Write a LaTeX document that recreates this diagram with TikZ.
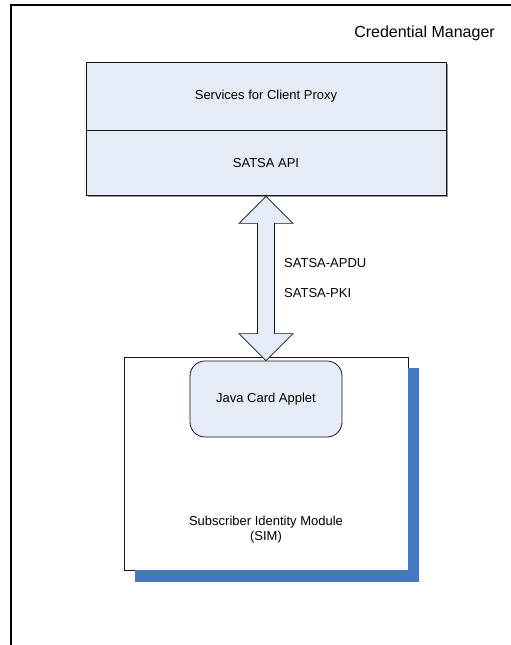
\documentclass[tikz,border=0pt]{standalone}
\usepackage{fontspec}
\setmainfont{Liberation Sans}
\usepackage{tikz}
\usetikzlibrary{positioning, calc}
\definecolor{paneFill}{RGB}{230,236,247}
\definecolor{paneEdge}{RGB}{20,20,20}
\definecolor{simShadow}{RGB}{70,120,190}
\definecolor{paneGray}{RGB}{150,150,150}

\begin{document}
\begin{tikzpicture}[x=1pt, y=-1pt,
        pane/.style={rectangle, draw=paneEdge, line width=0.9pt, fill=paneFill, minimum width=360pt, inner sep=0pt, font=\fontsize{13}{15}\selectfont},
        simbox/.style={rectangle, draw=paneEdge, line width=0.9pt, fill=white, minimum width=284pt, minimum height=213pt, inner sep=0pt},
        applet/.style={rectangle, draw=paneEdge, line width=0.8pt, fill=paneFill, rounded corners=15pt, minimum width=152pt, minimum height=76pt, font=\fontsize{13}{15}\selectfont},
        txt/.style={font=\fontsize{13}{15}\selectfont, inner sep=0pt},
        fatarr/.style={draw=paneEdge, line width=0.7pt, fill=paneFill, line join=miter},
    ]
    \useasboundingbox (0,0) rectangle (511,645);
    \draw[line width=1.2pt] (11,645) -- (11,5) -- (511,5);
    \node[font=\fontsize{16}{19}\selectfont, anchor=east, inner sep=0pt] at (495,33) (credman) {Credential Manager};
    % client proxy stack
    \fill[paneGray] (87.5,63.5) rectangle (447.5,196.5);
    \node[pane, minimum height=68pt] at (266,96) (proxy) {Services for Client Proxy};
    \node[pane, minimum height=65pt, below=0pt of proxy] (api) {SATSA API};
    % SIM
    \node[simbox] at (266,463.5) (sim) {};
    \fill[simShadow] ($(sim.north east)+(0,11)$) rectangle ($(sim.south east)+(11,12)$);
    \fill[simShadow] ($(sim.south west)+(11,0)$) rectangle ($(sim.south east)+(11,12)$);
    \node[applet] at (266,399) (jcapplet) {Java Card Applet};
    \node[txt, align=center] at (266,530) (simlbl) {Subscriber Identity Module\\(SIM)};
    % double arrow between api and applet
    \draw[fatarr] (api.south) -- ($(api.south)+(27,27)$) -- ($(api.south)+(8.5,27)$)
        -- ($(jcapplet.north)+(8.5,-27)$) -- ($(jcapplet.north)+(27,-27)$) -- (jcapplet.north)
        -- ($(jcapplet.north)+(-27,-27)$) -- ($(jcapplet.north)+(-8.5,-27)$)
        -- ($(api.south)+(-8.5,27)$) -- ($(api.south)+(-27,27)$) -- cycle;
    \node[txt, anchor=west] at (284,263) (apdu) {SATSA-APDU};
    \node[txt, anchor=west] at (284,293) (pki) {SATSA-PKI};
\end{tikzpicture}
\end{document}
